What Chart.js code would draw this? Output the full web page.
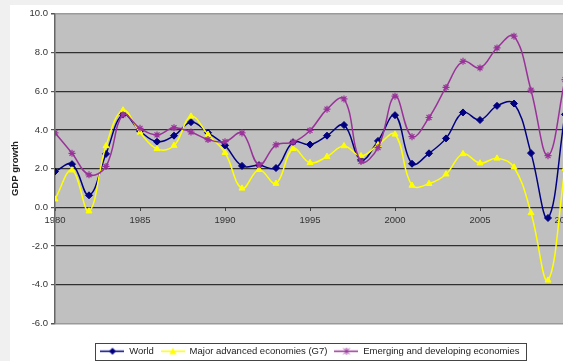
<!DOCTYPE html>
<html>
<head>
<meta charset="utf-8">
<script src="https://cdn.jsdelivr.net/npm/chart.js@4.4.1/dist/chart.umd.min.js"></script>
<style>
  html, body { margin: 0; padding: 0; width: 563px; height: 361px; overflow: hidden; background: #f0f0f0; }
  #wrap { position: absolute; left: 10px; top: 5px; width: 626px; height: 368px; background: #ffffff; }
  canvas { display: block; }
</style>
</head>
<body>
<div id="wrap"><canvas id="c" width="626" height="368"></canvas></div>
<script>
// Real GDP growth, annual %, 1980-2010
const years = [1980, 1981, 1982, 1983, 1984, 1985, 1986, 1987, 1988, 1989,
               1990, 1991, 1992, 1993, 1994, 1995, 1996, 1997, 1998, 1999,
               2000, 2001, 2002, 2003, 2004, 2005, 2006, 2007, 2008, 2009, 2010];

const world = [1.85, 2.23, 0.62, 2.76, 4.80, 3.94, 3.39, 3.70, 4.40, 3.85,
               3.20, 2.14, 2.17, 2.03, 3.36, 3.24, 3.70, 4.25, 2.45, 3.43,
               4.76, 2.25, 2.79, 3.56, 4.90, 4.51, 5.24, 5.36, 2.80, -0.55, 4.80];

const g7 = [0.42, 1.92, -0.20, 3.17, 5.02, 3.87, 3.02, 3.19, 4.70, 3.76,
            2.82, 0.98, 1.94, 1.23, 3.03, 2.30, 2.62, 3.17, 2.65, 3.22,
            3.77, 1.13, 1.22, 1.71, 2.76, 2.28, 2.53, 2.07, -0.29, -3.77, 2.00];

const emerging = [3.85, 2.79, 1.68, 2.11, 4.78, 4.08, 3.74, 4.11, 3.89, 3.50,
                  3.39, 3.84, 2.20, 3.23, 3.36, 3.97, 5.07, 5.60, 2.37, 3.08,
                  5.74, 3.65, 4.64, 6.19, 7.54, 7.20, 8.23, 8.84, 6.05, 2.67, 6.60];

const seriesNames = ['World', 'Major advanced economies (G7)', 'Emerging and developing economies'];
const yearTicks = [1980, 1985, 1990, 1995, 2000, 2005, 2010];

const NAVY = '#000080';
const YELLOW = '#ffff00';
const PLUM = '#993399';

// small line-with-marker swatches for the legend
function swatch(color, marker) {
  const c = document.createElement('canvas');
  c.width = 24; c.height = 9;
  const g = c.getContext('2d');
  g.strokeStyle = color; g.fillStyle = color; g.lineWidth = 1.5;
  g.beginPath(); g.moveTo(0, 4.5); g.lineTo(24, 4.5); g.stroke();
  g.lineWidth = 1;
  g.beginPath();
  if (marker === 'diamond') {
    g.moveTo(12, 1); g.lineTo(15.5, 4.5); g.lineTo(12, 8); g.lineTo(8.5, 4.5); g.closePath(); g.fill();
  } else if (marker === 'triangle') {
    g.moveTo(12, 1); g.lineTo(15.5, 7.5); g.lineTo(8.5, 7.5); g.closePath(); g.fill();
  } else {
    g.moveTo(9, 1.5); g.lineTo(15, 7.5); g.moveTo(15, 1.5); g.lineTo(9, 7.5);
    g.moveTo(12, 1); g.lineTo(12, 8); g.stroke();
  }
  return c;
}
const swatches = [swatch(NAVY, 'diamond'), swatch(YELLOW, 'triangle'), swatch(PLUM, 'star')];

const toPoints = vals => years.map((yr, i) => ({ x: yr, y: vals[i] }));

const plotBackground = {
  id: 'plotBackground',
  beforeDraw(chart) {
    const { ctx, chartArea: a } = chart;
    ctx.save();
    ctx.fillStyle = '#c0c0c0';
    ctx.fillRect(a.left, a.top, a.right - a.left, a.bottom - a.top);
    ctx.restore();
  }
};

const legendFrame = {
  id: 'legendFrame',
  afterDraw(chart) {
    const boxes = chart.legend && chart.legend.legendHitBoxes;
    if (!boxes || !boxes.length) return;
    const first = boxes[0], last = boxes[boxes.length - 1];
    const x0 = Math.round(first.left - 5) + 0.5;
    const x1 = Math.round(last.left + last.width + 6) + 0.5;
    const y0 = Math.round(first.top - 4) + 0.5;
    const y1 = Math.round(first.top + first.height + 4) + 0.5;
    const ctx = chart.ctx;
    ctx.save();
    ctx.strokeStyle = '#444';
    ctx.lineWidth = 1;
    ctx.strokeRect(x0, y0, x1 - x0, y1 - y0);
    ctx.restore();
  }
};

const FONT = "'Liberation Sans', Arial, sans-serif";

new Chart(document.getElementById('c'), {
  type: 'line',
  data: {
    datasets: [
      { label: seriesNames[0], data: toPoints(world), borderColor: NAVY, backgroundColor: NAVY,
        pointStyle: 'rectRot', pointRadius: 3.5, pointBorderWidth: 1, borderWidth: 1.5, tension: 0.4, order: 2 },
      { label: seriesNames[1], data: toPoints(g7), borderColor: YELLOW, backgroundColor: YELLOW,
        pointStyle: 'triangle', pointRadius: 3.5, pointBorderWidth: 1, borderWidth: 1.5, tension: 0.4, order: 1 },
      { label: seriesNames[2], data: toPoints(emerging), borderColor: PLUM, backgroundColor: PLUM,
        pointStyle: 'star', pointRadius: 3.5, pointBorderWidth: 1.2, borderWidth: 1.5, tension: 0.4, order: 0 }
    ]
  },
  options: {
    responsive: false,
    animation: false,
    layout: { padding: { left: 0, right: 26, top: 3, bottom: 7 } },
    scales: {
      x: {
        // 17 px per year over a 555 px wide plot
        type: 'linear', min: 1980, max: 2012.647,
        position: { y: 0 },
        afterBuildTicks(s) { s.ticks = yearTicks.map(v => ({ value: v })); },
        ticks: { color: '#333', font: { family: FONT, size: 9.5 }, padding: 3, maxRotation: 0, autoSkip: false,
                 callback: v => String(v) },
        grid: { drawOnChartArea: false, tickLength: 4, tickColor: '#444' },
        border: { display: false }
      },
      y: {
        min: -6, max: 10,
        afterFit(s) { s.width = 45; },
        ticks: { stepSize: 2, padding: 3, color: '#333', font: { family: FONT, size: 9.5 },
                 callback: v => v.toFixed(1) },
        grid: {
          color: c => (c.tick && (c.tick.value === 10 || c.tick.value === -6)) ? '#9a9a9a' : '#303030',
          lineWidth: c => (c.tick && (c.tick.value === 10 || c.tick.value === -6)) ? 1.5 : 1.2,
          tickLength: 4, tickColor: '#555'
        },
        border: { color: '#666', width: 1.5 },
        title: { display: true, text: 'GDP growth', color: '#222',
                 font: { family: FONT, size: 9.5, weight: 'bold' }, padding: { top: 0, bottom: 0 } }
      }
    },
    plugins: {
      tooltip: { enabled: false },
      legend: {
        position: 'bottom',
        title: { display: true, text: '', padding: { top: 14, bottom: 0 }, font: { size: 2, lineHeight: 1 } },
        labels: {
          usePointStyle: true, pointStyleWidth: 24, padding: 7, color: '#222',
          font: { family: FONT, size: 9.5 },
          generateLabels(chart) {
            const items = Chart.defaults.plugins.legend.labels.generateLabels(chart);
            items.sort((a, b) => a.datasetIndex - b.datasetIndex);
            items.forEach(it => { it.pointStyle = swatches[it.datasetIndex]; });
            return items;
          }
        }
      }
    }
  },
  plugins: [plotBackground, legendFrame]
});
</script>
</body>
</html>
